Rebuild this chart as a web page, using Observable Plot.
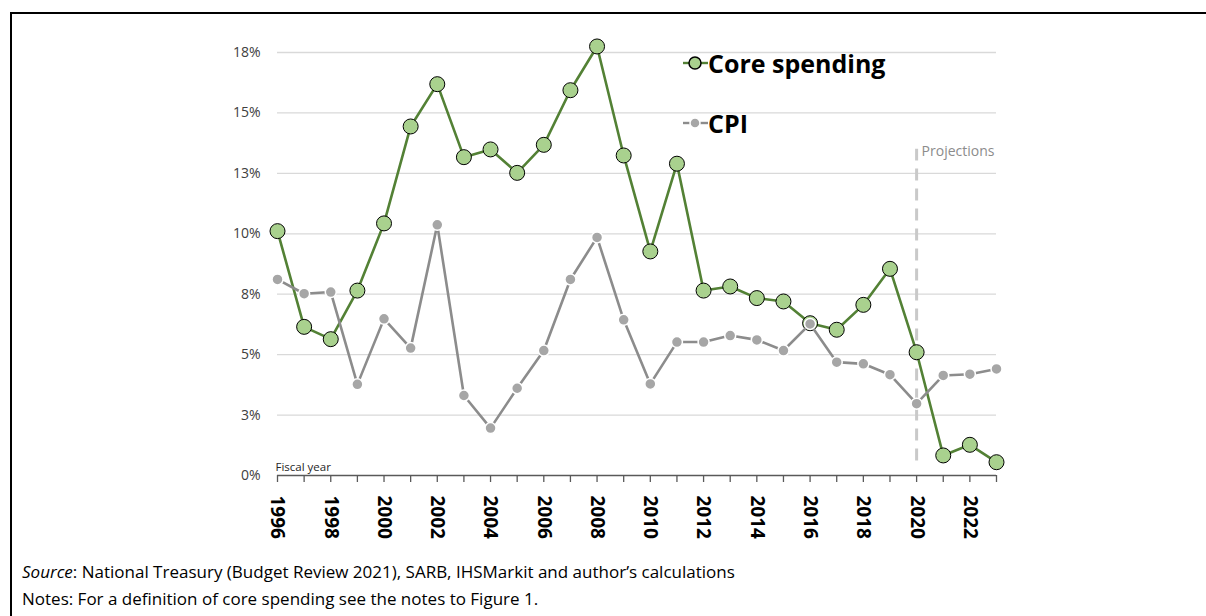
<!DOCTYPE html>
<html>
<head>
<meta charset="utf-8">
<script src="https://cdn.jsdelivr.net/npm/d3@7"></script>
<script src="https://cdn.jsdelivr.net/npm/@observablehq/plot@0.6"></script>
<style>
  html, body { margin: 0; padding: 0; background: #fff; }
  body { width: 1206px; height: 616px; position: relative; overflow: hidden; font-family: "Open Sans", "Noto Sans", sans-serif; }
  #frame { position: absolute; left: 10px; top: 12px; right: -10px; bottom: -10px; border-left: 2px solid #000; border-top: 2px solid #000; }
  #chart { position: absolute; left: 0; top: 0; }
  #legend { position: absolute; left: 683px; top: 0; }
  .leg { position: absolute; left: 0; display: flex; align-items: center; white-space: nowrap; font-weight: bold; font-size: 25px; color: #000; height: 30px; }
  .leg svg { display: block; margin-right: 0px; }
  #caption { position: absolute; left: 22px; top: 558px; font-size: 17px; line-height: 27px; color: #000; }
</style>
</head>
<body>
<div id="frame"></div>
<div id="chart"></div>
<div id="legend"></div>
<div id="caption"></div>
<script>
// ---- data ----
const years = [1996, 1997, 1998, 1999, 2000, 2001, 2002, 2003, 2004, 2005, 2006, 2007, 2008, 2009,
               2010, 2011, 2012, 2013, 2014, 2015, 2016, 2017, 2018, 2019, 2020, 2021, 2022, 2023];
const coreSpending = [10.11, 6.15, 5.64, 7.65, 10.43, 14.44, 16.19, 13.17, 13.49, 12.52, 13.68, 15.94, 17.75, 13.24,
                      9.27, 12.90, 7.65, 7.82, 7.34, 7.20, 6.30, 6.03, 7.06, 8.55, 5.10, 0.83, 1.27, 0.55];
const cpi = [8.11, 7.52, 7.59, 3.77, 6.48, 5.27, 10.37, 3.31, 1.96, 3.61, 5.17, 8.11, 9.85, 6.44,
             3.79, 5.52, 5.52, 5.79, 5.61, 5.17, 6.27, 4.69, 4.62, 4.17, 2.97, 4.14, 4.19, 4.41];
const yTicks = [0, 2.5, 5, 7.5, 10, 12.5, 15, 17.5];
const yTickLabels = ["0%", "3%", "5%", "8%", "10%", "13%", "15%", "18%"];
const xTickLabels = [1996, 1998, 2000, 2002, 2004, 2006, 2008, 2010, 2012, 2014, 2016, 2018, 2020, 2022];
const seriesNames = ["Core spending", "CPI"];
const projectionYear = 2020;
const projectionSpan = [0.6, 13.5];
const projectionLabel = "Projections";
const axisLabel = "Fiscal year";
const sourceText = "National Treasury (Budget Review 2021), SARB, IHSMarkit and author\u2019s calculations";
const notesText = "Notes: For a definition of core spending see the notes to Figure 1.";

// ---- colours ----
const coreLine = "#538135", coreFill = "#a9d18e";
const cpiLine = "#8c8c8c", cpiFill = "#a6a6a6";

const rows = years.map((y, i) => ({year: y, core: coreSpending[i], cpi: cpi[i]}));

const chart = Plot.plot({
  width: 1206,
  height: 560,
  marginLeft: 277,
  marginRight: 210,
  marginTop: 52,
  marginBottom: 85,
  style: {background: "transparent", fontFamily: "'Open Sans', 'Noto Sans', sans-serif", overflow: "visible"},
  x: {domain: [years[0], years[years.length - 1]]},
  y: {domain: [0, 17.5]},
  marks: [
    Plot.ruleY(yTicks.slice(1), {x1: years[0], x2: years[years.length - 1], stroke: "#d9d9d9", strokeWidth: 1.3}),
    Plot.axisY({ticks: yTicks, tickSize: 0, tickPadding: 17, tickFormat: d => yTickLabels[yTicks.indexOf(d)], fontSize: 14, fill: "#404040", label: null}),
    Plot.ruleX([projectionYear], {y1: projectionSpan[0], y2: projectionSpan[1], stroke: "#c9c9c9", strokeWidth: 3, strokeDasharray: "12,8"}),
    Plot.text([projectionLabel], {x: projectionYear, y: projectionSpan[1], text: d => d, dx: 5, dy: -3, textAnchor: "start", lineAnchor: "top", fontSize: 14, fill: "#8c8c8c"}),
    Plot.ruleY([0], {x1: years[0], x2: years[years.length - 1], stroke: "#595959", strokeWidth: 1.5}),
    Plot.axisX({ticks: years, tickSize: 7, tickFormat: () => "", stroke: "#595959", strokeWidth: 1.3, label: null}),
    Plot.axisX({ticks: xTickLabels, tickSize: 0, tickPadding: 20, tickRotate: 90, tickFormat: d => String(d), fontSize: 19, fontWeight: "bold", fill: "#000", label: null}),
    Plot.text([axisLabel], {x: years[0], y: 0, text: d => d, dx: -2, dy: -5, textAnchor: "start", lineAnchor: "bottom", fontSize: 11.5, fill: "#262626"}),
    Plot.line(rows, {x: "year", y: "core", stroke: coreLine, strokeWidth: 2.6}),
    Plot.dot(rows, {x: "year", y: "core", r: 7.5, fill: coreFill, stroke: "#000", strokeWidth: 1}),
    Plot.line(rows, {x: "year", y: "cpi", stroke: cpiLine, strokeWidth: 2.6}),
    Plot.dot(rows, {x: "year", y: "cpi", r: 5.5, fill: cpiFill, stroke: "#fff", strokeWidth: 1.5})
  ]
});
document.getElementById("chart").appendChild(chart);

// ---- legend ----
const legend = document.getElementById("legend");
const legItems = [
  {name: seriesNames[0], line: coreLine, fill: coreFill, stroke: "#000", r: 6, sw: 1, center: 63},
  {name: seriesNames[1], line: cpiLine, fill: cpiFill, stroke: "#fff", r: 5, sw: 1, center: 123}
];
legItems.forEach(it => {
  const d = document.createElement("div");
  d.className = "leg";
  d.style.top = (it.center - 15) + "px";
  d.innerHTML = `<svg width="25" height="30"><line x1="0" x2="25" y1="15" y2="15" stroke="${it.line}" stroke-width="2.4"/>` +
    `<circle cx="12" cy="15" r="${it.r}" fill="${it.fill}" stroke="${it.stroke}" stroke-width="${it.sw + 0.5}"/></svg>` +
    `<span>${it.name}</span>`;
  legend.appendChild(d);
});

// ---- caption ----
const cap = document.getElementById("caption");
cap.innerHTML = `<div><i>Source</i>: ${sourceText}</div><div>${notesText}</div>`;
</script>
</body>
</html>
